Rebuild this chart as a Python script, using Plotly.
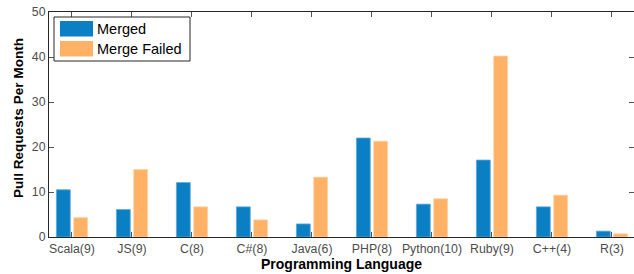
import plotly.graph_objects as go

categories = ["Scala(9)", "JS(9)", "C(8)", "C#(8)", "Java(6)", "PHP(8)",
              "Python(10)", "Ruby(9)", "C++(4)", "R(3)"]
merged = [10.5, 6.1, 12.1, 6.7, 2.9, 22.0, 7.3, 17.1, 6.7, 1.3]
merge_failed = [4.3, 15.0, 6.7, 3.8, 13.3, 21.3, 8.5, 40.2, 9.3, 0.7]
series_names = ["Merged", "Merge Failed"]
y_ticks = [0, 10, 20, 30, 40, 50]

BLUE = "#0b7fc4"
ORANGE = "#ffb266"

fig = go.Figure()
fig.add_trace(go.Bar(x=categories, y=merged, name=series_names[0],
                     marker=dict(color=BLUE, line=dict(color="#5eaadc", width=0.8))))
fig.add_trace(go.Bar(x=categories, y=merge_failed, name=series_names[1],
                     marker=dict(color=ORANGE, line=dict(color="#ffd2a6", width=0.8))))

# plot area geometry (pixels)
L, T, W, H = 49, 12, 585, 225
def px(x):
    return (x - L) / W
def py(y):
    return (T + H - y) / H

shapes = [
    dict(type="rect", xref="paper", yref="paper", x0=px(54), x1=px(190),
         y0=py(61), y1=py(17), line=dict(color="#262626", width=1), fillcolor="white",
         layer="above"),
    dict(type="rect", xref="paper", yref="paper", x0=px(60), x1=px(93),
         y0=py(36.5), y1=py(21), line=dict(width=0), fillcolor=BLUE, layer="above"),
    dict(type="rect", xref="paper", yref="paper", x0=px(60), x1=px(93),
         y0=py(56.5), y1=py(41), line=dict(width=0), fillcolor=ORANGE, layer="above"),
]
annotations = [
    dict(text=series_names[0], xref="paper", yref="paper", x=px(95), y=py(29),
         xanchor="left", yanchor="middle", showarrow=False,
         font=dict(family="Liberation Sans, Arial", size=14.5, color="black")),
    dict(text=series_names[1], xref="paper", yref="paper", x=px(95), y=py(49),
         xanchor="left", yanchor="middle", showarrow=False,
         font=dict(family="Liberation Sans, Arial", size=14.5, color="black")),
    dict(text="<b>Pull Requests Per Month</b>", xref="paper", yref="paper",
         x=px(18), y=py(118), xanchor="center", yanchor="middle", showarrow=False,
         textangle=-90, font=dict(family="Liberation Sans, Arial", size=13.6, color="black")),
    dict(text="<b>Programming Language</b>", xref="paper", yref="paper",
         x=0.5, y=py(264), xanchor="center", yanchor="middle", showarrow=False,
         font=dict(family="Liberation Sans, Arial", size=14, color="black")),
]

fig.update_layout(
    width=634, height=274,
    margin=dict(l=L, r=634 - L - W, t=T, b=274 - T - H, pad=0),
    paper_bgcolor="white", plot_bgcolor="white",
    barmode="group", bargap=0.423, bargroupgap=0.2,
    showlegend=False,
    shapes=shapes, annotations=annotations,
    font=dict(family="Liberation Sans, Arial", color="#4d4d4d"),
)
fig.update_xaxes(
    range=[-0.383, 9.367], showgrid=False, zeroline=False,
    showline=True, linecolor="#262626", linewidth=1, mirror="ticks",
    ticks="inside", ticklen=5, tickcolor="#555555", tickwidth=1,
    tickfont=dict(size=12.3, color="#4d4d4d"),
)
fig.update_yaxes(
    range=[0, 50], tickvals=y_ticks, showgrid=False, zeroline=False,
    showline=True, linecolor="#262626", linewidth=1, mirror="ticks",
    ticks="inside", ticklen=5, tickcolor="#555555", tickwidth=1,
    tickfont=dict(size=12.3, color="#4d4d4d"),
)

fig.write_html("out.html", config={"displayModeBar": False},
               post_script="document.body.style.margin='0';document.body.style.overflow='hidden';")
